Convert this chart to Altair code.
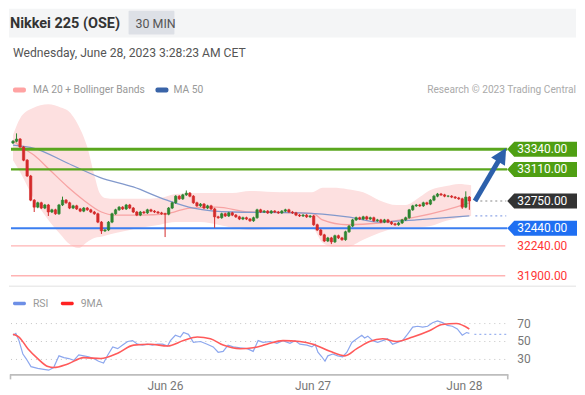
import altair as alt
import pandas as pd

FONT = "Roboto"

# ---------------- data ----------------
first_open = 33410
closes = [33430, 33455, 33365, 33215, 33035, 32760, 32680, 32730, 32670, 32705,
          32625, 32650, 32605, 32705, 32760, 32730, 32670, 32695, 32660, 32635,
          32670, 32650, 32625, 32605, 32510, 32410, 32420, 32510, 32605, 32650,
          32680, 32660, 32705, 32670, 32625, 32590, 32625, 32615, 32650, 32635,
          32625, 32615, 32605, 32600, 32670, 32730, 32805, 32775, 32820, 32840,
          32805, 32730, 32695, 32715, 32670, 32695, 32660, 32570, 32560, 32605,
          32580, 32615, 32590, 32570, 32545, 32560, 32545, 32525, 32560, 32650,
          32625, 32635, 32615, 32635, 32625, 32615, 32635, 32650, 32625, 32615,
          32590, 32580, 32590, 32570, 32580, 32480, 32420, 32365, 32295, 32330,
          32285, 32355, 32330, 32310, 32400, 32465, 32535, 32560, 32545, 32570,
          32545, 32560, 32525, 32535, 32510, 32535, 32510, 32490, 32480, 32500,
          32535, 32560, 32650, 32695, 32705, 32695, 32730, 32715, 32760, 32805,
          32830, 32820, 32805, 32805, 32795, 32785, 32775, 32680, 32795, 32750]
wick = 12
high_override = {1: 33520, 14: 32800, 49: 32870, 112: 32660, 119: 32820, 128: 32860}
low_override = {6: 32625, 10: 32580, 25: 32375, 43: 32340, 57: 32445, 90: 32260,
                127: 32660, 129: 32650}

band_i = [0, 2, 5.5, 10, 13.5, 15.5, 18.5, 21, 23, 24.5, 26, 29, 33, 36, 41.5, 46, 53,
          58, 62, 67, 75.5, 84.5, 87.5, 90.5, 94.5, 99, 103.5, 108.5, 111, 115, 118,
          122.5, 126, 129.5]
band_up = [33500, 33690, 33805, 33850, 33815, 33780, 33610, 33365, 33045, 32840, 32785,
           32775, 32775, 32775, 32785, 32830, 32840, 32840, 32840, 32865, 32850, 32850,
           32900, 32900, 32885, 32850, 32760, 32705, 32705, 32795, 32875, 32920, 32945, 32930]
band_lo = [33215, 33080, 32805, 32535, 32365, 32275, 32215, 32285, 32330, 32340, 32355,
           32385, 32420, 32445, 32480, 32510, 32510, 32480, 32445, 32420, 32435, 32445,
           32275, 32230, 32230, 32310, 32385, 32445, 32455, 32455, 32465, 32525, 32560, 32580]

ma20_i = [0, 2, 6, 10.5, 15.5, 20, 25, 28.5, 36, 43.5, 45.5, 50, 57.5, 67, 81, 85, 87.5,
          94.5, 103.5, 113, 122.5, 129]
ma20_v = [33440, 33375, 33270, 33100, 32910, 32760, 32625, 32590, 32590, 32605, 32625,
          32670, 32680, 32625, 32615, 32605, 32535, 32480, 32500, 32560, 32650, 32730]

ma50_i = [0, 6, 15.5, 24.5, 34, 43.5, 51, 62, 81, 94.5, 103.5, 114, 129]
ma50_v = [33385, 33350, 33180, 33020, 32910, 32760, 32670, 32625, 32615, 32570, 32510,
          32535, 32580]

rsi_i = [0, 0.8, 1.7, 2.8, 3.7, 5.1, 7, 8.7, 10.1, 11.5, 13, 14.4, 15.8, 17.2, 18.6, 20,
         21.4, 22.8, 24.2, 25.6, 26.8, 28.2, 29.6, 31, 32.4, 33.8, 35.2, 36.6, 38, 39.4,
         40.8, 42.3, 43.7, 44.5, 45.9, 47.3, 48.2, 49.6, 51, 53, 54.9, 56.6, 58, 59.4,
         60.8, 62.3, 64.2, 66.2, 67.9, 69.3, 70.7, 72.7, 74.6, 76.3, 78.3, 79.7, 81.1,
         83.1, 84.5, 85.4, 86.2, 87.3, 88.2, 89, 90.4, 91.8, 93.2, 94.4, 95.8, 97.2, 98.6,
         99.4, 100.3, 101.7, 103.1, 104.5, 105.9, 107.3, 108.7, 110.1, 111.5, 113, 114.4,
         115.8, 117.2, 118.6, 120, 121.4, 122.8, 124.2, 125.6, 127, 128.2, 129]
rsi_v = [57, 59, 51, 36, 31, 22, 20, 19, 18, 21, 34, 32, 31, 29, 35, 34, 33, 31, 28, 26,
         35, 44, 42, 46, 50, 51, 47, 46, 47, 46, 47, 47, 45, 51, 57, 55, 60, 58, 49, 50,
         47, 44, 38, 39, 46, 44, 43, 42, 39, 51, 49, 50, 48, 51, 48, 51, 47, 46, 44, 47,
         38, 33, 28, 34, 36, 34, 33, 38, 49, 53, 57, 54, 56, 51, 49, 51, 53, 47, 49, 51,
         58, 66, 67, 66, 67, 71, 73, 71, 68, 67, 64, 57, 60, 59]
rsi_last = 58

ma9_i = [0, 1.7, 4.2, 7, 9.9, 11.5, 15.5, 20, 24.8, 29.6, 34.1, 38.9, 43.7, 48.2, 52.1,
         55.8, 59.4, 64.2, 67.9, 71.8, 76.3, 81.1, 84.8, 89.6, 93.8, 97.2, 100.8, 104.5,
         108.5, 113, 117.7, 121.4, 125.3, 129]
ma9_v = [58, 55, 42, 31, 22, 21, 25, 32, 31, 37, 46, 47, 45, 51, 55, 53, 46, 42, 43, 47,
         51, 50, 47, 39, 34, 42, 50, 53, 50, 55, 62, 69, 70, 64]

rsi_grid = [70, 50, 30]
day_pos = [43.1, 84.8, 127.6]
day_lab = ["Jun 26", "Jun 27", "Jun 28"]

last_price = 32750
ma50_last = 32580
arrow_i = [130.6, 138.1]
arrow_p = [32750, 33265]

tag_levels = [33340, 33110, 32750, 32440]
tag_colors = ["#4f9f13", "#4f9f13", "#333333", "#1f6ff2"]
text_levels = [32240, 31900]

# ---------------- helpers ----------------
one = pd.DataFrame({"a": [0]})
XS = alt.Scale(domain=[-1.127, 159.155], nice=False, zero=False, padding=0)
YS = alt.Scale(domain=[31775, 34939], nice=False, zero=False, padding=0)
RS = alt.Scale(domain=[-6.67, 110], nice=False, zero=False, padding=0)


def txt(s, x, y, size=11, color="#999", weight="normal", align="left", baseline="alphabetic"):
    return alt.Chart(pd.DataFrame({"t": [s]})).mark_text(
        align=align, baseline=baseline, fontSize=size, color=color,
        fontWeight=weight, font=FONT
    ).encode(x=alt.value(x), y=alt.value(y), text="t:N")


def box(x, x2, y, y2, color, radius=0):
    return alt.Chart(one).mark_rect(color=color, cornerRadius=radius).encode(
        x=alt.value(x), x2=alt.value(x2), y=alt.value(y), y2=alt.value(y2))


def hline(level, color, width, x1=2, x2=500, dash=None, scale=YS):
    kw = dict(color=color, strokeWidth=width)
    if dash:
        kw["strokeDash"] = dash
    return alt.Chart(pd.DataFrame({"p": [level]})).mark_rule(**kw).encode(
        x=alt.value(x1), x2=alt.value(x2), y=alt.Y("p:Q", scale=scale, axis=None))


# candles table
rows = []
prev = first_open
for i, c in enumerate(closes):
    o = prev
    hi = high_override.get(i, max(o, c) + wick)
    lo = low_override.get(i, min(o, c) - wick)
    rows.append({"i": i, "open": o, "close": c, "high": hi, "low": lo,
                 "dir": "up" if c >= o else "down"})
    prev = c
candles = pd.DataFrame(rows)
ccol = alt.Color("dir:N", scale=alt.Scale(domain=["up", "down"], range=["#2e8530", "#d42a2a"]),
                 legend=None)

X = alt.X("i:Q", scale=XS, axis=None)

band = alt.Chart(pd.DataFrame({"i": band_i, "u": band_up, "l": band_lo})).mark_area(
    color="#fde0e0", interpolate="monotone").encode(
    x=X, y=alt.Y("u:Q", scale=YS, axis=None), y2="l:Q")

ma20 = alt.Chart(pd.DataFrame({"i": ma20_i, "v": ma20_v})).mark_line(
    color="#f7a3a3", strokeWidth=1.3, interpolate="monotone").encode(
    x=X, y=alt.Y("v:Q", scale=YS, axis=None))
ma50 = alt.Chart(pd.DataFrame({"i": ma50_i, "v": ma50_v})).mark_line(
    color="#8299cc", strokeWidth=1.3, interpolate="monotone").encode(
    x=X, y=alt.Y("v:Q", scale=YS, axis=None))

wicks = alt.Chart(candles).mark_rule(strokeWidth=1).encode(
    x=X, y=alt.Y("low:Q", scale=YS, axis=None), y2="high:Q", color=ccol)
bodies = alt.Chart(candles).mark_bar(width=2.4, strokeWidth=0.6).encode(
    x=X, y=alt.Y("open:Q", scale=YS, axis=None), y2="close:Q", color=ccol, stroke=ccol)

arrow = alt.Chart(pd.DataFrame({"i": arrow_i, "p": arrow_p})).mark_line(
    color="#2c60ab", strokeWidth=5).encode(x=X, y=alt.Y("p:Q", scale=YS, axis=None))
arrow_head = alt.Chart(pd.DataFrame({"i": arrow_i[-1:], "p": arrow_p[-1:]})).mark_point(
    shape="M 0 -1 L 0.9 0.75 L -0.9 0.75 Z", size=324, angle=31, filled=True,
    opacity=1, color="#2c60ab").encode(x=X, y=alt.Y("p:Q", scale=YS, axis=None))

tag_df = pd.DataFrame({"p": tag_levels, "c": tag_colors,
                       "t": [f"{v:.2f}" for v in tag_levels]})
tags = alt.Chart(tag_df).mark_point(
    shape="M -1 0 L -0.8 -0.215 L 1 -0.215 L 1 0.215 L -0.8 0.215 Z",
    size=4900, filled=True, opacity=1, strokeWidth=0).encode(
    x=alt.value(535), y=alt.Y("p:Q", scale=YS, axis=None),
    color=alt.Color("c:N", scale=None))
tag_text = alt.Chart(tag_df).mark_text(
    align="left", baseline="middle", fontSize=12, color="white", font=FONT).encode(
    x=alt.value(510), y=alt.Y("p:Q", scale=YS, axis=None), text="t:N")
red_df = pd.DataFrame({"p": text_levels, "t": [f"{v:.2f}" for v in text_levels]})
red_text = alt.Chart(red_df).mark_text(
    align="left", baseline="middle", fontSize=12, color="#ff3535", font=FONT).encode(
    x=alt.value(510), y=alt.Y("p:Q", scale=YS, axis=None), text="t:N")

top = alt.layer(
    box(0, 569, 0, 29, "#f4f5f6"),
    box(120, 166, 2, 26, "#dde0e6", 1),
    txt("Nikkei 225 (OSE)", 1, 19, 14.5, "#333", "bold"),
    txt("30 MIN", 127, 19, 12.5, "#555"),
    txt("Wednesday, June 28, 2023 3:28:23 AM CET", 4, 48, 12.2, "#555"),
    box(4, 17, 79, 84, "#ffa3a3", 2),
    txt("MA 20 + Bollinger Bands", 24, 85, 10.3, "#999"),
    box(147, 160, 79, 84, "#3a64a8", 2),
    txt("MA 50", 165, 85, 10.3, "#999"),
    txt("Research \u00a9 2023 Trading Central", 569, 85, 10.2, "#aaa", align="right"),
    band, ma20, ma50,
    hline(33340, "#5aa61e", 3),
    hline(33110, "#5aa61e", 2.2),
    hline(32440, "#3b7ef0", 1.8),
    hline(32240, "#ffb3b3", 1.4, x2=498),
    hline(31900, "#ffb3b3", 1.4, x2=498),
    hline(last_price, "#888888", 1.2, x1=468, x2=499, dash=[2, 3]),
    hline(ma50_last, "#8fa6e6", 1.2, x1=468, x2=499, dash=[2, 3]),
    wicks, bodies, arrow, arrow_head, tags, tag_text, red_text,
    alt.Chart(one).mark_rule(color="#ebebeb", strokeWidth=1.5).encode(
        x=alt.value(0), x2=alt.value(569), y=alt.value(278.5)),
).properties(width=569, height=279)

RX = alt.X("i:Q", scale=XS, axis=None)
grid = alt.Chart(pd.DataFrame({"r": rsi_grid})).mark_rule(
    color="#c4c4c4", strokeWidth=1, strokeDash=[1, 4]).encode(
    x=alt.value(2), x2=alt.value(499), y=alt.Y("r:Q", scale=RS, axis=None))
grid_lab = alt.Chart(pd.DataFrame({"r": rsi_grid, "t": [str(v) for v in rsi_grid]})).mark_text(
    align="left", baseline="middle", fontSize=12, color="#777", font=FONT).encode(
    x=alt.value(510), y=alt.Y("r:Q", scale=RS, axis=None), text="t:N")
rsi_line = alt.Chart(pd.DataFrame({"i": rsi_i, "r": rsi_v})).mark_line(
    color="#8ca7ee", strokeWidth=1.2).encode(x=RX, y=alt.Y("r:Q", scale=RS, axis=None))
ma9_line = alt.Chart(pd.DataFrame({"i": ma9_i, "r": ma9_v})).mark_line(
    color="#ff5a5a", strokeWidth=1.6, interpolate="monotone").encode(
    x=RX, y=alt.Y("r:Q", scale=RS, axis=None))
rsi_ext = hline(rsi_last, "#9db4f0", 1.2, x1=467, x2=499, dash=[2, 3], scale=RS)
days = alt.Chart(pd.DataFrame({"i": day_pos, "t": day_lab})).mark_text(
    align="center", baseline="middle", fontSize=12, color="#777", font=FONT).encode(
    x=RX, y=alt.value(99), text="t:N")

bottom = alt.layer(
    box(4, 17, 14, 17.5, "#6d8fe6", 1.5),
    txt("RSI", 24, 19.5, 10.5, "#999"),
    box(52, 65, 14, 17.5, "#ff2222", 1.5),
    txt("9MA", 72, 19.5, 10.5, "#999"),
    grid, grid_lab, rsi_line, ma9_line, rsi_ext,
    alt.Chart(one).mark_rule(color="#bdbdbd", strokeWidth=1.6).encode(
        x=alt.value(1), x2=alt.value(501), y=alt.value(87.5)),
    alt.Chart(one).mark_rule(color="#bdbdbd", strokeWidth=1.6).encode(
        x=alt.value(1.5), y=alt.value(87), y2=alt.value(92)),
    alt.Chart(one).mark_rule(color="#bdbdbd", strokeWidth=1.6).encode(
        x=alt.value(500.5), y=alt.value(87), y2=alt.value(92)),
    days,
).properties(width=569, height=105)

chart = alt.vconcat(top, bottom, spacing=0).configure_view(stroke=None).properties(
    padding=0, background="white")

chart.save("out.html", embed_options={"renderer": "svg", "actions": False})
